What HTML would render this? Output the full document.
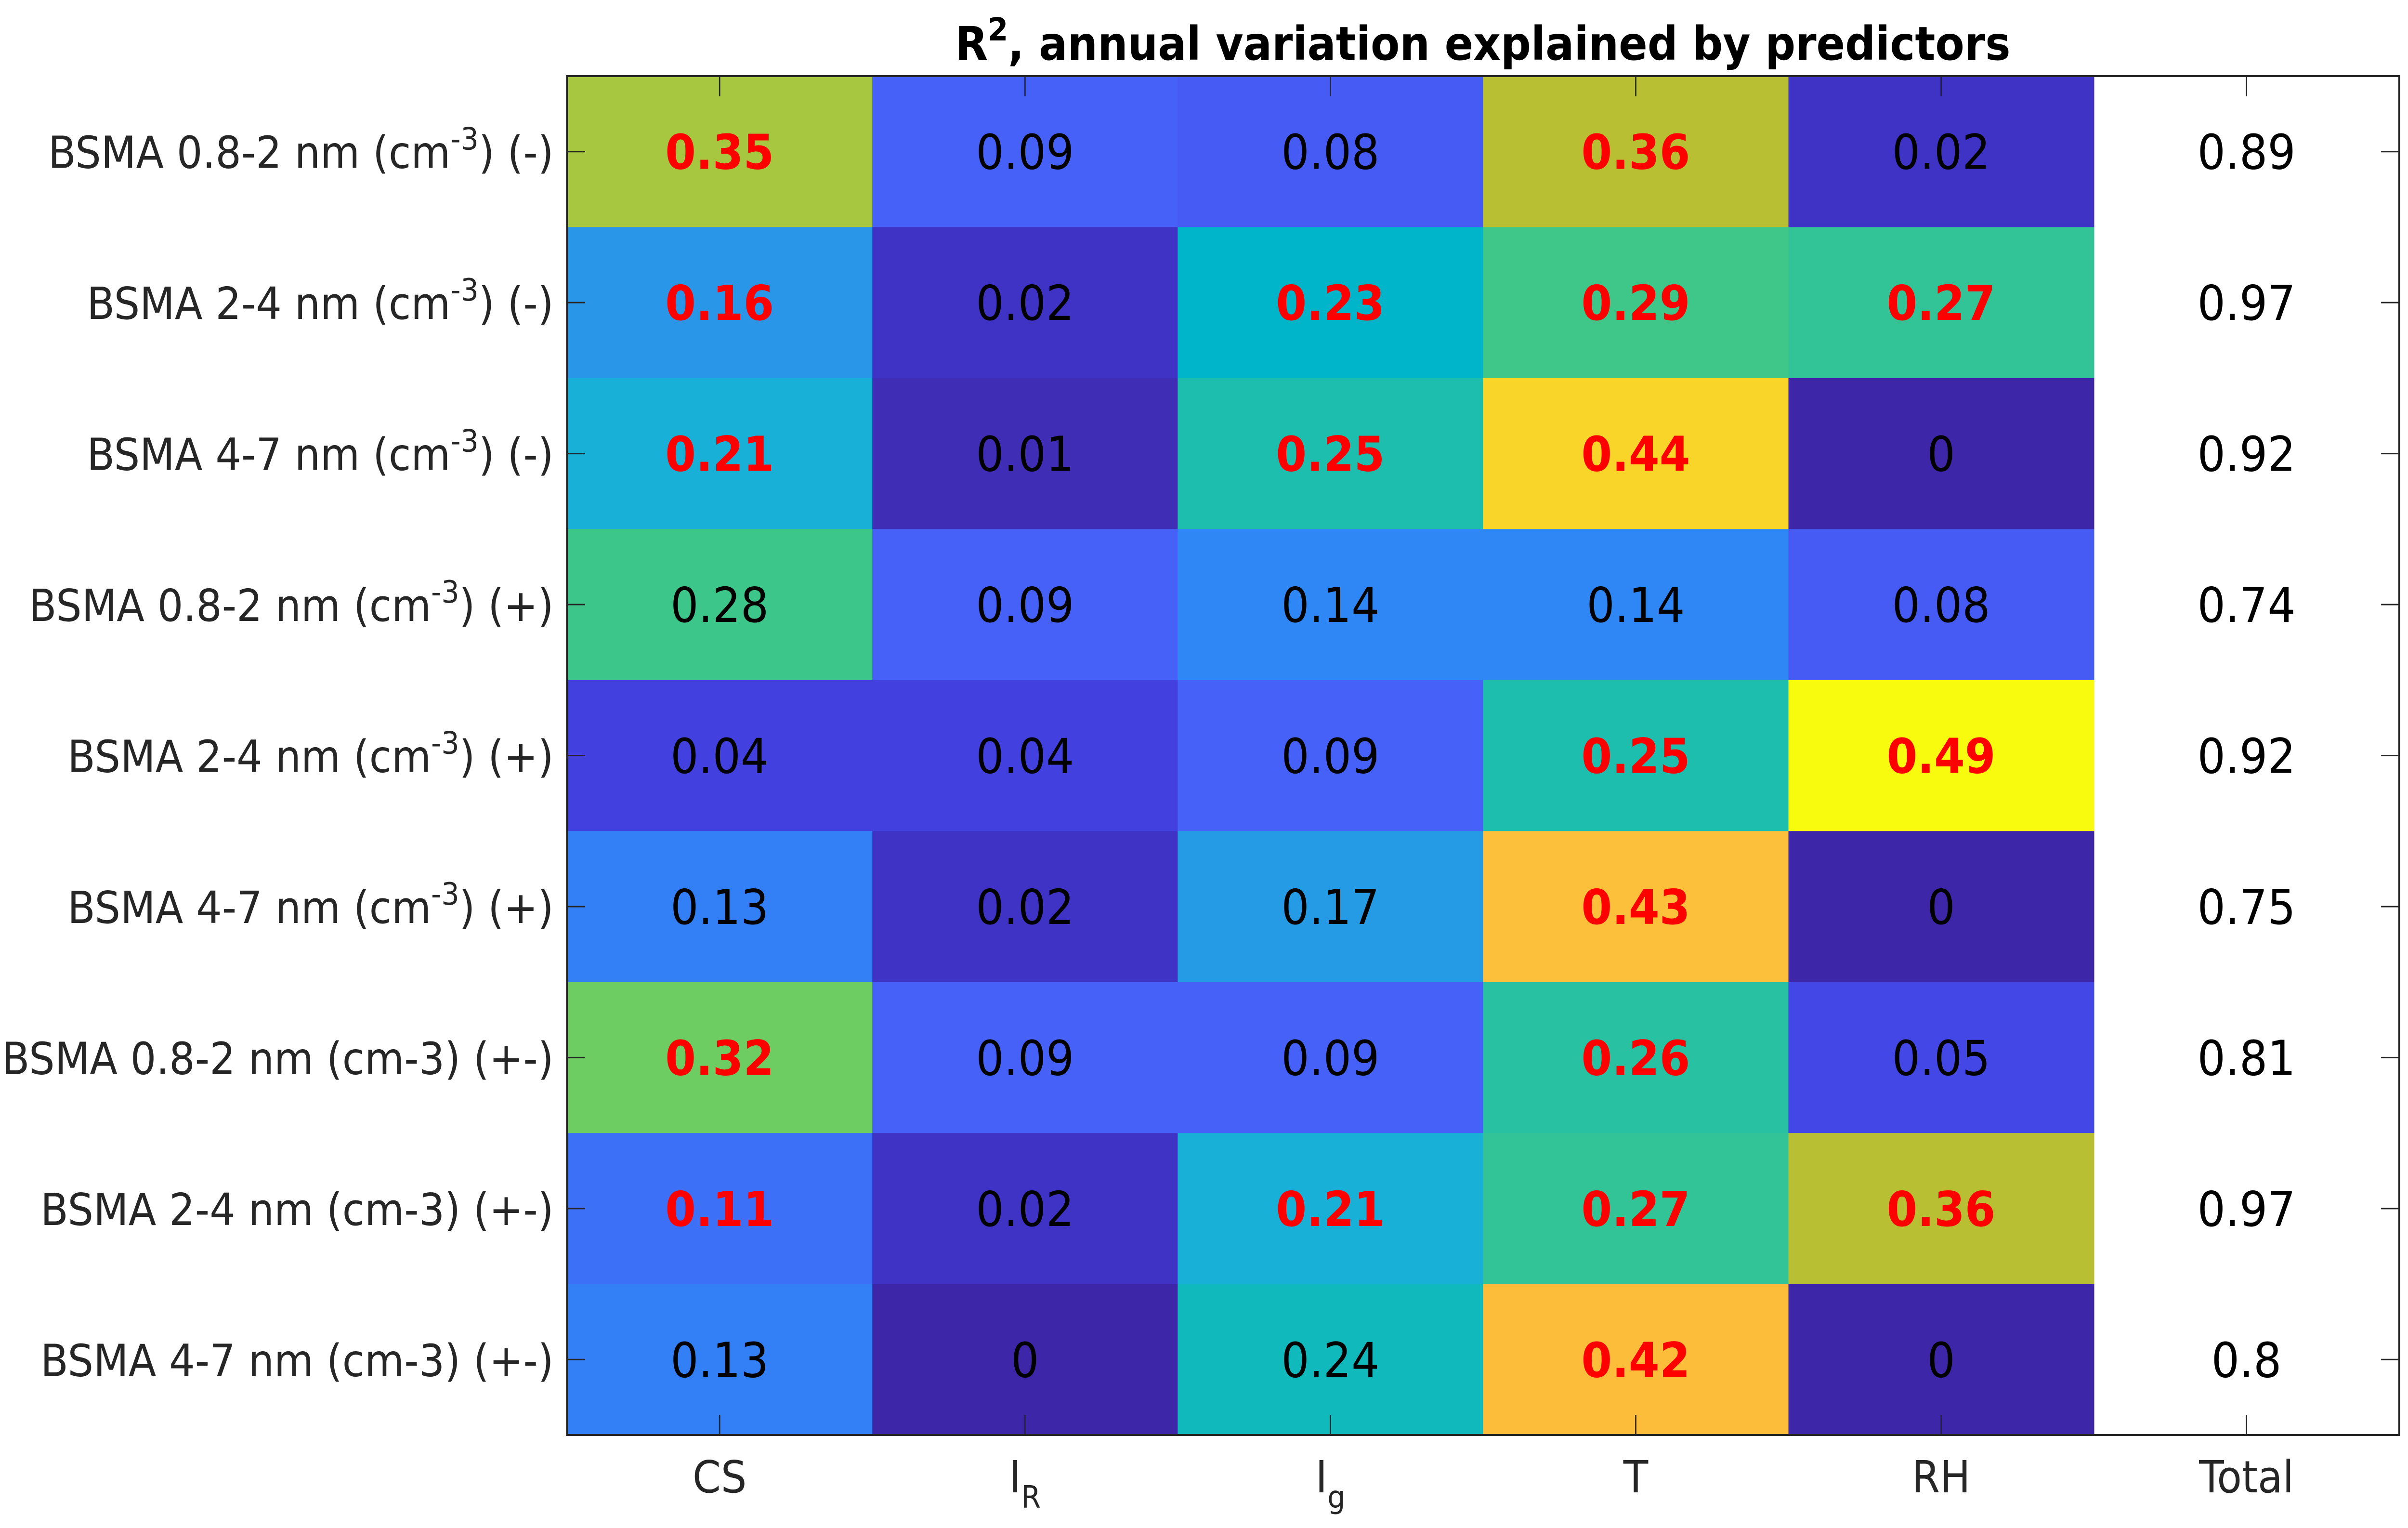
<!DOCTYPE html>
<html><head><meta charset="utf-8"><style>
html,body{margin:0;padding:0;background:#fff;width:100%;height:100%;overflow:hidden;}
svg{display:block;width:100vw;height:100vh;font-family:"DejaVu Sans","Liberation Sans",sans-serif;}
</style></head><body>
<svg id="chart" viewBox="0 0 5458 3172" preserveAspectRatio="none" xmlns="http://www.w3.org/2000/svg" overflow="hidden">
<text x="3361" y="124" text-anchor="middle" font-size="96" font-weight="bold" fill="#000">R<tspan dy="-40" font-size="66">2</tspan><tspan dy="40">, annual variation explained by predictors</tspan></text>
<g id="cells"></g>
<g id="labels"></g>
<g id="axes"></g>
</svg>
<script>
const rowLabels = [
 ['BSMA 0.8-2 nm (cm','-3',') (-)'],
 ['BSMA 2-4 nm (cm','-3',') (-)'],
 ['BSMA 4-7 nm (cm','-3',') (-)'],
 ['BSMA 0.8-2 nm (cm','-3',') (+)'],
 ['BSMA 2-4 nm (cm','-3',') (+)'],
 ['BSMA 4-7 nm (cm','-3',') (+)'],
 ['BSMA 0.8-2 nm (cm-3) (+-)','',''],
 ['BSMA 2-4 nm (cm-3) (+-)','',''],
 ['BSMA 4-7 nm (cm-3) (+-)','','']
];
const colLabels = [['CS',''],['I','R'],['I','g'],['T',''],['RH',''],['Total','']];
const valCS = [0.35,0.16,0.21,0.28,0.04,0.13,0.32,0.11,0.13];
const valIR = [0.09,0.02,0.01,0.09,0.04,0.02,0.09,0.02,0];
const valIg = [0.08,0.23,0.25,0.14,0.09,0.17,0.09,0.21,0.24];
const valT  = [0.36,0.29,0.44,0.14,0.25,0.43,0.26,0.27,0.42];
const valRH = [0.02,0.27,0,0.08,0.49,0,0.05,0.36,0];
const valTotal = [0.89,0.97,0.92,0.74,0.92,0.75,0.81,0.97,0.8];
const sigCS = [1,1,1,0,0,0,1,1,0];
const sigIR = [0,0,0,0,0,0,0,0,0];
const sigIg = [0,1,1,0,0,0,0,1,0];
const sigT  = [1,1,1,0,1,1,1,1,1];
const sigRH = [0,1,0,0,1,0,0,1,0];
const cmin = 0, cmax = 0.49;

const X0=1285, X1=5438, Y0=158, Y1=2979;
const nCols=6, nRows=9;
const cw=(X1-X0)/nCols, rh=(Y1-Y0)/nRows;
const xPos = c => X0 + cw*c;
const yPos = r => Y0 + rh*r;
const anchors=[[0,[62,38,168]],[0.04,[63,51,196]],[0.08,[66,64,224]],[0.18,[70,96,248]],[0.286,[46,135,245]],[0.327,[41,150,232]],[0.43,[24,176,214]],[0.47,[0,181,201]],[0.51,[30,190,174]],[0.571,[60,198,138]],[0.6,[64,200,136]],[0.65,[106,204,100]],[0.714,[166,199,63]],[0.735,[184,191,51]],[0.857,[252,190,58]],[0.878,[253,192,58]],[0.898,[249,213,42]],[1,[249,251,14]]];
function color(v){
  let t=Math.max(0,Math.min(1,(v-cmin)/(cmax-cmin)));
  for(let i=1;i<anchors.length;i++){
    if(t<=anchors[i][0]){
      const [a,ca]=anchors[i-1],[b,cb]=anchors[i];
      const f=(t-a)/(b-a);
      return 'rgb('+ca.map((x,k)=>Math.round(x+(cb[k]-x)*f)).join(',')+')';
    }
  }
  return 'rgb(249,251,14)';
}
const NS='http://www.w3.org/2000/svg';
function mk(tag,attrs,parent){const e=document.createElementNS(NS,tag);for(const k in attrs)e.setAttribute(k,attrs[k]);parent.appendChild(e);return e;}
const cells=document.getElementById('cells');
const cols=[valCS,valIR,valIg,valT,valRH];
const sigs=[sigCS,sigIR,sigIg,sigT,sigRH];
const colNames=['cs','ir','ig','t','rh'];
for(let c=0;c<5;c++){
  for(let r=0;r<nRows;r++){
    const rect=mk('rect',{x:xPos(c),y:yPos(r),width:cw+1,height:rh+1,fill:color(cols[c][r])},cells);
    
    
    const bold=sigs[c][r]===1;
    const t=mk('text',{x:xPos(c)+cw/2,y:yPos(r)+rh/2+36,'text-anchor':'middle','font-size':100,fill:bold?'#ff0000':'#000','font-weight':bold?'bold':'normal'},cells);
    t.textContent=String(cols[c][r]);
    
    
  }
}
for(let r=0;r<nRows;r++){
  const t=mk('text',{x:xPos(5)+cw/2,y:yPos(r)+rh/2+36,'text-anchor':'middle','font-size':100,fill:'#000'},cells);
  t.textContent=String(valTotal[r]);
  
  
}
const labels=document.getElementById('labels');
for(let r=0;r<nRows;r++){
  const t=mk('text',{x:1255,y:yPos(r)+rh/2+34,'text-anchor':'end','font-size':92,fill:'#262626'},labels);
  
  
  const [a,s,b]=rowLabels[r];
  const s1=mk('tspan',{},t); s1.textContent=a;
  if(s){const s2=mk('tspan',{dy:-38,'font-size':64},t); s2.textContent=s;
    const s3=mk('tspan',{dy:38},t); s3.textContent=b;}
}
for(let c=0;c<nCols;c++){
  const t=mk('text',{x:xPos(c)+cw/2,y:3098,'text-anchor':'middle','font-size':92,fill:'#262626'},labels);
  
  
  const s1=mk('tspan',{},t); s1.textContent=colLabels[c][0];
  if(colLabels[c][1]){const s2=mk('tspan',{dy:32,'font-size':64},t); s2.textContent=colLabels[c][1];}
}
const axes=document.getElementById('axes');
const box=mk('rect',{x:X0,y:Y0,width:X1-X0,height:Y1-Y0,fill:'none',stroke:'#262626','stroke-width':4},axes);


for(let r=0;r<nRows;r++){
  const y=yPos(r)+rh/2;
  mk('line',{x1:X0,y1:y,x2:X0+41,y2:y,stroke:'#262626','stroke-width':3},axes);
  mk('line',{x1:X1,y1:y,x2:X1-41,y2:y,stroke:'#262626','stroke-width':3},axes);
}
for(let c=0;c<nCols;c++){
  const x=xPos(c)+cw/2;
  mk('line',{x1:x,y1:Y0,x2:x,y2:Y0+42,stroke:'#262626','stroke-width':3},axes);
  mk('line',{x1:x,y1:Y1,x2:x,y2:Y1-42,stroke:'#262626','stroke-width':3},axes);
}
</script>
</body></html>
